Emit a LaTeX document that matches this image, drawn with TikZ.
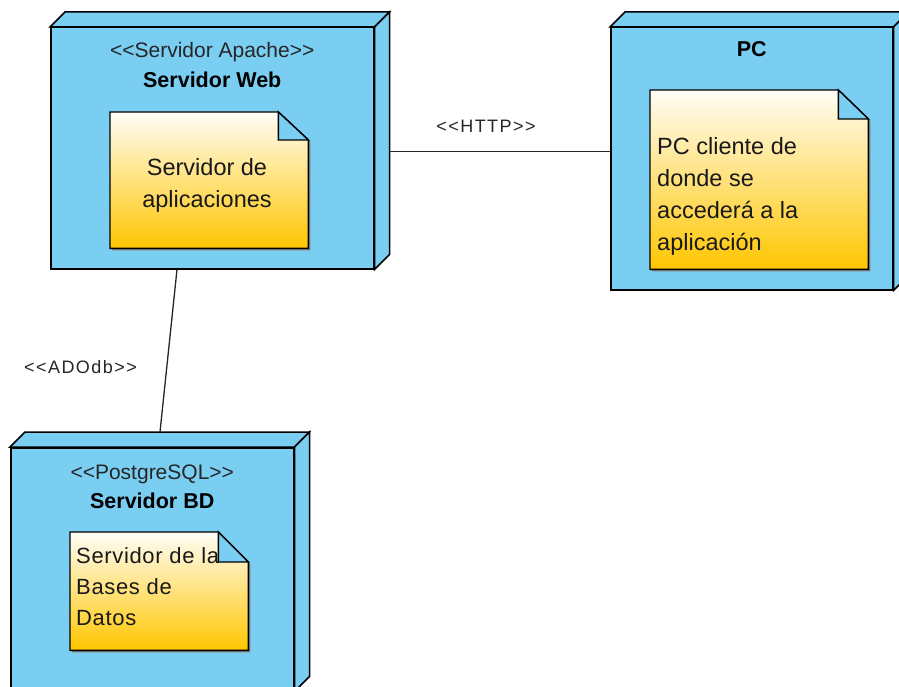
\documentclass[tikz,border=0pt]{standalone}
\usepackage{fontspec}
\setmainfont{Liberation Sans}
\usetikzlibrary{calc}
\definecolor{nodeblue}{RGB}{122,206,242}
\definecolor{notetop}{RGB}{255,253,247}
\definecolor{notebot}{RGB}{255,198,0}
\definecolor{txt}{RGB}{25,25,25}
\tikzset{
  front/.style={draw=black, line width=1.5pt, fill=nodeblue, rectangle, inner sep=0pt, anchor=north west},
  face/.style={draw=black, line width=1.5pt, fill=nodeblue, line join=miter},
  notearea/.style={rectangle, inner sep=0pt, anchor=north west},
  notebody/.style={draw=black, line width=1.4pt, top color=notetop, bottom color=notebot},
  noteshadow/.style={fill=black!50},
  fold/.style={draw=black, line width=1.4pt, fill=nodeblue, line join=miter},
  stereo/.style={font=\fontsize{21}{25}\selectfont, text=black!85, inner sep=0pt, anchor=base},
  titlelbl/.style={font=\bfseries\fontsize{21.5}{25}\selectfont, text=black, inner sep=0pt, anchor=base},
  notetext/.style={text=txt, inner sep=0pt},
  conn/.style={draw=black!85, line width=1.3pt},
  connlabel/.style={font=\fontsize{18}{21}\selectfont\addfontfeature{LetterSpace=8}, text=black!85, inner sep=0pt, anchor=base},
}
\begin{document}
\begin{tikzpicture}[x=1pt,y=-1pt]
\useasboundingbox (0,0) rectangle (899,687);
\fill[white] (0,0) rectangle (899,687);
\clip (0,0) rectangle (899,687);

% ---------- Servidor Web ----------
\node[front, minimum width=323pt, minimum height=241pt] (web) at (50,27) {};
\draw[face] (web.north west) -- ([shift={(15pt,15pt)}]web.north west) -- ([shift={(15pt,15pt)}]web.north east) -- (web.north east) -- cycle;
\draw[face] (web.north east) -- ([shift={(15pt,15pt)}]web.north east) -- ([shift={(15pt,15pt)}]web.south east) -- (web.south east) -- cycle;
\node[stereo] (webst) at ([yshift=-31pt]web.north) {<{}<Servidor Apache>{}>};
\node[titlelbl] (webtt) at ([yshift=-61pt]web.north) {Servidor Web};
\node[notearea, minimum width=198pt, minimum height=136pt] (webnote) at (110,112) {};
\fill[noteshadow] ([shift={(2pt,-2pt)}]webnote.north west) -- ([shift={(-28pt,-2pt)}]webnote.north east) -- ([shift={(2pt,-30pt)}]webnote.north east) -- ([shift={(2pt,-2pt)}]webnote.south east) -- ([shift={(2pt,-2pt)}]webnote.south west) -- cycle;
\path[notebody] (webnote.north west) -- ([xshift=-30pt]webnote.north east) -- ([yshift=-28pt]webnote.north east) -- (webnote.south east) -- (webnote.south west) -- cycle;
\node[notetext, font=\fontsize{23.5}{32}\selectfont, align=center, anchor=north] (webtx) at (207,157.8) {Servidor de\\aplicaciones};
\draw[fold] ([xshift=-30pt]webnote.north east) -- ([xshift=-30pt,yshift=-28pt]webnote.north east) -- ([yshift=-28pt]webnote.north east) -- cycle;

% ---------- PC ----------
\node[front, minimum width=282pt, minimum height=262pt] (pc) at (610,27) {};
\draw[face] (pc.north west) -- ([shift={(15pt,15pt)}]pc.north west) -- ([shift={(15pt,15pt)}]pc.north east) -- (pc.north east) -- cycle;
\draw[face] (pc.north east) -- ([shift={(15pt,15pt)}]pc.north east) -- ([shift={(15pt,15pt)}]pc.south east) -- (pc.south east) -- cycle;
\node[titlelbl] (pctt) at ([yshift=-30pt]pc.north) {PC};
\node[notearea, minimum width=218pt, minimum height=179pt] (pcnote) at (650,90) {};
\fill[noteshadow] ([shift={(2pt,-2pt)}]pcnote.north west) -- ([shift={(-28pt,-2pt)}]pcnote.north east) -- ([shift={(2pt,-31pt)}]pcnote.north east) -- ([shift={(2pt,-2pt)}]pcnote.south east) -- ([shift={(2pt,-2pt)}]pcnote.south west) -- cycle;
\path[notebody] (pcnote.north west) -- ([xshift=-30pt]pcnote.north east) -- ([yshift=-29pt]pcnote.north east) -- (pcnote.south east) -- (pcnote.south west) -- cycle;
\node[notetext, font=\fontsize{23.5}{32}\selectfont, align=left, anchor=north west] (pctx) at (657,136.8) {PC cliente de\\donde se\\acceder\'a a la\\aplicaci\'on};
\draw[fold] ([xshift=-30pt]pcnote.north east) -- ([xshift=-30pt,yshift=-29pt]pcnote.north east) -- ([yshift=-29pt]pcnote.north east) -- cycle;

% ---------- Servidor BD ----------
\node[front, minimum width=283pt, minimum height=243pt] (db) at (10,447) {};
\draw[face] (db.north west) -- ([shift={(15pt,15pt)}]db.north west) -- ([shift={(15pt,15pt)}]db.north east) -- (db.north east) -- cycle;
\draw[face] (db.north east) -- ([shift={(15pt,15pt)}]db.north east) -- ([shift={(15pt,15pt)}]db.south east) -- (db.south east) -- cycle;
\node[stereo] (dbst) at ([yshift=-32pt]db.north) {<{}<PostgreSQL>{}>};
\node[titlelbl] (dbtt) at ([yshift=-61pt]db.north) {Servidor BD};
\node[notearea, minimum width=178pt, minimum height=118pt] (dbnote) at (70,532) {};
\fill[noteshadow] ([shift={(2pt,-2pt)}]dbnote.north west) -- ([shift={(-28pt,-2pt)}]dbnote.north east) -- ([shift={(2pt,-32pt)}]dbnote.north east) -- ([shift={(2pt,-2pt)}]dbnote.south east) -- ([shift={(2pt,-2pt)}]dbnote.south west) -- cycle;
\path[notebody] (dbnote.north west) -- ([xshift=-30pt]dbnote.north east) -- ([yshift=-30pt]dbnote.north east) -- (dbnote.south east) -- (dbnote.south west) -- cycle;
\node[notetext, font=\fontsize{22}{31}\selectfont\addfontfeature{LetterSpace=3}, align=left, anchor=north west] (dbtx) at (76,547) {Servidor de la\\Bases de\\Datos};
\draw[fold] ([xshift=-30pt]dbnote.north east) -- ([xshift=-30pt,yshift=-30pt]dbnote.north east) -- ([yshift=-30pt]dbnote.north east) -- cycle;

% ---------- connectors ----------
\coordinate (httpa) at ([shift={(15pt,-3.5pt)}]web.east);
\coordinate (httpb) at (httpa -| pc.west);
\draw[conn] (httpa) -- (httpb);
\node[connlabel] (httplbl) at (486,133) {<{}<HTTP>{}>};

\coordinate (adoa) at ([xshift=127pt]web.south west);
\coordinate (adob) at ([shift={(150pt,15pt)}]db.north west);
\draw[conn] (adoa) -- (adob);
\node[connlabel] (adolbl) at (80.5,373) {<{}<ADOdb>{}>};
\end{tikzpicture}
\end{document}
